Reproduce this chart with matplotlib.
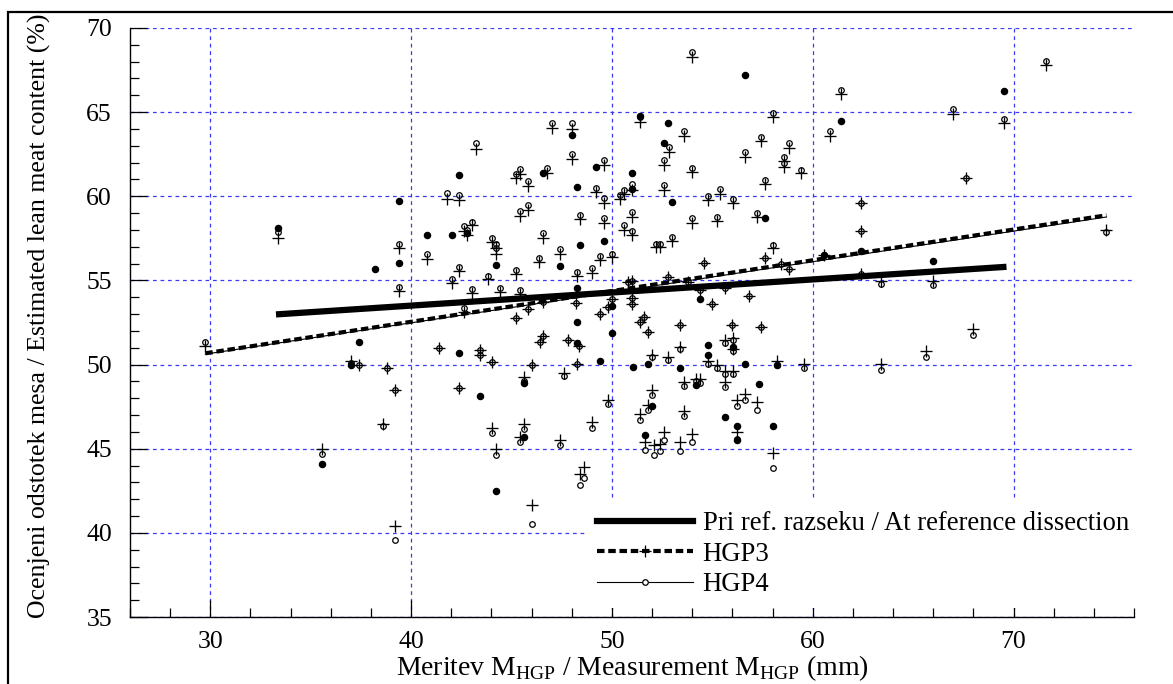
import matplotlib
matplotlib.use("Agg")
import matplotlib.pyplot as plt
from matplotlib.lines import Line2D
from matplotlib.patches import Rectangle

plt.rcParams['font.family'] = ['Liberation Serif', 'DejaVu Serif']
plt.rcParams['mathtext.fontset'] = 'custom'
plt.rcParams['mathtext.rm'] = 'Liberation Serif'

# reference dissection (filled dots)
ref_x = [33.38, 39.40, 42.40, 38.22, 39.40, 40.80, 42.02, 42.80, 44.23,
         37.40, 37.02, 42.40, 43.43, 35.58, 44.23,
         56.64, 51.41, 52.81, 47.99, 52.61, 49.22, 46.59, 51.01, 48.24, 51.01,
         53.00, 57.61, 49.60, 48.39, 47.39, 48.24, 54.40, 50.02, 48.24, 50.02, 60.58,
         69.52, 61.41, 66.01, 62.42,
         45.60, 48.26, 49.42, 51.03, 51.79, 53.41, 54.78, 54.78, 56.03, 56.64,
         58.22, 57.31, 54.20, 52.01, 55.63, 56.23, 58.02, 56.23, 51.63, 45.60]
ref_y = [58.14, 59.70, 61.28, 55.69, 56.05, 57.69, 57.69, 57.79, 55.91,
         51.36, 49.98, 50.69, 48.12, 44.11, 42.47,
         67.21, 64.80, 64.37, 63.62, 63.14, 61.72, 61.40, 61.40, 60.57, 60.45,
         59.66, 58.68, 57.37, 57.09, 55.87, 54.57, 53.90, 53.50, 52.51, 51.88, 56.52,
         66.23, 64.45, 56.15, 56.74,
         48.91, 51.28, 50.24, 49.84, 50.04, 49.78, 51.19, 50.57, 51.03, 50.04,
         49.98, 48.85, 48.79, 47.51, 46.86, 46.34, 46.34, 45.49, 45.79, 45.69]

# HGP3 / HGP4 estimates
hgp_x = [33.38, 43.22, 41.80, 42.40, 45.22, 45.43, 45.40, 42.63, 43.02, 42.80,
         39.40, 40.80, 44.03, 44.22, 44.22, 42.40, 42.02, 43.83, 44.43, 45.22,
         39.40, 43.05, 45.40, 42.63, 45.22,
         53.99, 47.00, 47.99, 51.41, 53.57, 52.82, 58.02, 57.43, 56.63, 58.80,
         58.59, 58.59, 59.42, 47.99, 49.62, 46.78, 45.81, 52.61, 53.99, 49.22,
         49.62, 50.42, 50.62, 51.01, 52.61, 54.80, 55.40, 56.03, 57.61, 57.23,
         55.23, 53.99, 45.80, 48.39, 49.60, 51.01, 50.62, 51.01, 46.59, 47.39,
         46.39, 49.42, 50.02, 52.19, 52.41, 53.00, 48.24, 49.02, 58.01, 57.61,
         54.60, 58.42, 58.80, 52.81, 53.79, 50.80, 51.01, 54.40, 55.63, 56.81,
         55.00, 46.59, 48.22, 45.80, 50.02, 49.82, 51.01, 51.01, 49.42, 51.58,
         51.41, 51.81, 53.41, 56.00, 57.43, 60.85,
         71.63, 61.41, 67.01, 69.52, 67.61, 62.42, 62.42, 74.63, 62.42, 63.42,
         66.01, 68.00, 60.58,
         29.75, 37.02, 37.40, 38.82, 39.22, 38.60, 35.58, 39.22, 41.40, 43.43,
         43.43, 44.03, 42.40, 44.03, 44.23,
         46.40, 46.59, 47.79, 48.37, 46.00, 45.60, 47.59, 48.26, 51.99, 52.81,
         53.41, 54.80, 55.23, 55.61, 56.03, 56.03, 55.65, 56.03, 55.61, 53.57,
         54.20, 54.40, 58.22, 59.58, 49.80, 52.01, 51.79, 51.41, 53.57, 56.23,
         56.64, 57.23, 49.00, 45.60, 45.40, 47.39, 51.63, 52.08, 52.41, 52.61,
         53.41, 53.99, 56.23, 58.02, 48.39, 48.62, 46.00,
         63.42, 65.63]
hgp3 = [57.55, 62.83, 59.86, 59.80, 61.10, 61.34, 58.83, 57.92, 58.30, 57.72,
        56.90, 56.30, 57.30, 56.90, 56.60, 55.55, 54.86, 55.06, 54.33, 55.40,
        54.37, 54.23, 54.20, 53.14, 52.75,
        68.26, 64.07, 64.00, 64.41, 63.58, 62.63, 64.70, 63.28, 62.33, 62.89,
        62.10, 61.74, 61.38, 62.19, 61.84, 61.40, 60.61, 61.88, 61.42, 60.26,
        59.62, 59.86, 60.16, 60.40, 60.40, 59.76, 60.16, 59.62, 60.71, 58.77,
        58.54, 58.42, 59.20, 58.64, 58.44, 58.77, 58.02, 57.69, 57.53, 56.60,
        56.07, 56.20, 56.40, 56.96, 56.96, 57.35, 55.25, 55.47, 56.95, 56.36,
        56.05, 56.00, 55.69, 55.22, 54.88, 54.92, 54.98, 54.43, 54.53, 54.07,
        53.58, 53.70, 53.68, 53.28, 53.90, 53.44, 53.93, 53.58, 53.00, 52.80,
        52.55, 51.94, 52.33, 52.33, 52.21, 63.58,
        67.83, 66.05, 64.90, 64.37, 61.10, 59.62, 57.96, 58.00, 55.40, 54.98,
        54.98, 52.10, 56.52,
        51.10, 50.24, 49.98, 49.78, 48.46, 46.48, 44.96, 40.40, 50.97, 50.89,
        50.57, 50.14, 48.62, 46.23, 45.00,
        51.32, 51.68, 51.48, 51.09, 50.00, 49.25, 49.49, 50.04, 50.57, 50.47,
        51.07, 50.20, 50.00, 51.46, 51.60, 50.93, 49.64, 49.64, 48.95, 48.95,
        49.15, 49.15, 50.20, 50.04, 47.91, 48.46, 47.57, 47.08, 47.27, 47.87,
        48.26, 47.77, 46.58, 46.48, 45.69, 45.49, 45.40, 45.20, 45.30, 45.99,
        45.40, 45.89, 45.99, 44.74, 43.52, 43.91, 41.64,
        50.04, 50.79]
hgp4 = [57.87, 63.16, 60.20, 60.10, 61.30, 61.60, 59.10, 58.22, 58.50, 57.98,
        57.15, 56.56, 57.55, 57.19, 56.90, 55.81, 55.06, 55.28, 54.57, 55.60,
        54.60, 54.47, 54.43, 53.34, 52.75,
        68.60, 64.37, 64.37, 64.70, 63.87, 62.92, 64.96, 63.54, 62.63, 63.14,
        62.33, 62.00, 61.58, 62.49, 62.13, 61.66, 60.89, 62.13, 61.70, 60.51,
        59.92, 60.08, 60.40, 60.71, 60.65, 60.02, 60.41, 59.86, 60.95, 59.03,
        58.77, 58.68, 59.47, 58.91, 58.72, 59.05, 58.28, 57.92, 57.79, 56.84,
        56.34, 56.46, 56.60, 57.15, 57.19, 57.59, 55.51, 55.71, 57.10, 56.36,
        56.05, 56.00, 55.69, 55.22, 54.88, 54.92, 54.98, 54.43, 54.53, 54.07,
        53.58, 53.70, 53.68, 53.28, 53.90, 53.44, 53.93, 53.58, 53.00, 52.80,
        52.55, 51.94, 52.33, 52.33, 52.21, 63.87,
        68.02, 66.32, 65.16, 64.57, 61.10, 59.62, 57.96, 57.89, 55.40, 54.76,
        54.72, 51.76, 56.52,
        51.36, 50.10, 49.98, 49.78, 48.46, 46.34, 44.70, 39.60, 50.97, 50.89,
        50.57, 50.14, 48.62, 45.95, 44.60,
        51.32, 51.68, 51.48, 51.09, 50.00, 49.05, 49.35, 50.04, 50.43, 50.30,
        50.93, 50.04, 49.80, 51.28, 51.48, 50.83, 49.45, 49.45, 48.66, 48.72,
        49.01, 48.91, 50.00, 49.78, 47.63, 48.20, 47.31, 46.72, 46.92, 47.53,
        47.87, 47.31, 46.25, 46.19, 45.40, 45.20, 44.94, 44.60, 44.84, 45.53,
        44.86, 45.40, 45.60, 43.85, 42.87, 43.26, 40.55,
        49.68, 50.47]

# regression line end points
ref_line_x = [33.27, 69.65]
ref_line_y = [52.98, 55.81]
hgp3_line_x = [29.75, 74.63]
hgp3_line_y = [50.67, 58.87]
hgp4_line_x = [29.75, 74.63]
hgp4_line_y = [50.62, 58.77]

labels = ['Pri ref. razseku / At reference dissection', 'HGP3', 'HGP4']

fig = plt.figure(figsize=(11.73, 6.84), dpi=100)
ax = fig.add_axes([130/1173, 1-617/684, 1004/1173, 589/684])

ax.plot(ref_x, ref_y, 'o', color='black', ms=4.4, zorder=3)
ax.plot(hgp_x, hgp3, '+', color='black', ms=9, mew=0.95, zorder=3)
ax.plot(hgp_x, hgp4, 'o', mfc='none', mec='black', ms=4, mew=0.9, zorder=4)

ax.plot(ref_line_x, ref_line_y, '-', color='black', lw=4.5, solid_capstyle='butt', zorder=5)
ax.plot(hgp3_line_x, hgp3_line_y, '--', color='black', lw=3, dashes=(1.8, 0.9), zorder=5)
ax.plot(hgp4_line_x, hgp4_line_y, '-', color='black', lw=0.8, zorder=5)

ax.set_xlim(26, 76)
ax.set_ylim(35, 70)
ax.set_xticks(range(30, 71, 10))
ax.set_xticks(range(26, 77, 2), minor=True)
ax.set_yticks(range(35, 71, 5))
ax.set_yticks(range(35, 71, 1), minor=True)
ax.tick_params(which='both', direction='in', width=0.9, labelsize=18.5)
ax.tick_params(which='major', length=12)
ax.tick_params(which='minor', length=6.5)
ax.tick_params(axis='y', pad=13)
ax.tick_params(axis='x', pad=10)
ax.grid(True, which='major', color='#3a3af2', linestyle=(0, (3, 3)), lw=0.9)
for s in ['top', 'right']:
    ax.spines[s].set_visible(False)
for s in ['left', 'bottom']:
    ax.spines[s].set_linewidth(1.0)

ax.set_xlabel(r'Meritev M$_{\mathrm{HGP}}$ / Measurement M$_{\mathrm{HGP}}$ (mm)', fontsize=20, labelpad=0)
ax.set_ylabel('Ocenjeni odstotek mesa / Estimated lean meat content (%)', fontsize=18.6, labelpad=25)
ax.yaxis.label.set_y(0.512)

handles = [Line2D([], [], color='black', lw=4.5, marker='o', ms=2),
           Line2D([], [], color='black', lw=3, ls='--', dashes=(1.8, 0.9), marker='+', ms=9, mew=0.9),
           Line2D([], [], color='black', lw=0.8, marker='o', mfc='white', ms=4, mew=0.9)]
leg = ax.legend(handles, labels, loc='upper left', bbox_to_anchor=(0.441, 0.2207),
                fontsize=19.2, frameon=True, fancybox=False, edgecolor='none', framealpha=1,
                handlelength=3.6, handletextpad=0.36, labelspacing=0.2, borderpad=0.41)
leg.set_zorder(6)

fig.patches.append(Rectangle((8/1173, -0.01), 1.02, 1-12/684+0.01, transform=fig.transFigure,
                             fill=False, edgecolor='black', lw=1.6))

fig.savefig('out.png', dpi=100)
